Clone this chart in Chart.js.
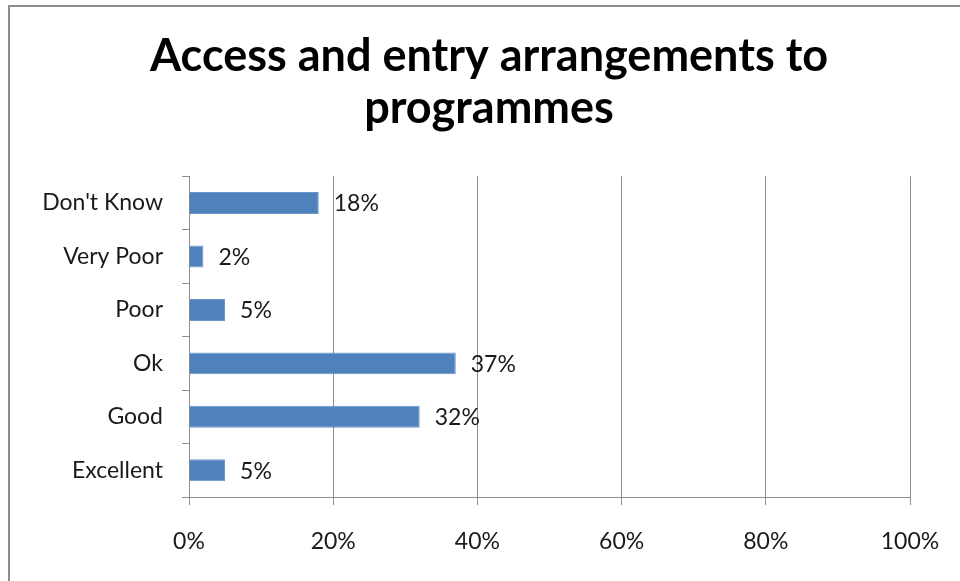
<!DOCTYPE html>
<html lang="en">
<head>
    <meta charset="UTF-8">
    <title>Access and entry arrangements to programmes</title>
    <script src="https://cdn.jsdelivr.net/npm/chart.js"></script>
    <style>
        html, body {
            margin: 0;
            padding: 0;
            background: #ffffff;
            overflow: hidden;
        }

        .frame {
            position: absolute;
            left: 8px;
            top: 5px;
            width: 958px;
            height: 600px;
            border-top: 2px solid #8c8c8c;
            border-left: 2px solid #8c8c8c;
        }
    </style>
</head>
<body>

    <div class="frame">
        <canvas id="accessChart" width="958" height="600"></canvas>
    </div>

    <script>
        // Answers, listed top to bottom as shown on the chart
        const categories = ["Don't Know", "Very Poor", "Poor", "Ok", "Good", "Excellent"];
        const percentages = [18, 2, 5, 37, 32, 5];
        const xTicks = [0, 20, 40, 60, 80, 100];

        const fontFamily = "Lato, 'Open Sans', sans-serif";
        const gridGrey = "#8e8e8e";

        // Writes the percentage just past the end of each bar
        const barValueLabels = {
            id: "barValueLabels",
            afterDatasetsDraw(chart) {
                const ctx = chart.ctx;
                const meta = chart.getDatasetMeta(0);
                ctx.save();
                ctx.font = "23px " + fontFamily;
                ctx.fillStyle = "#1a1a1a";
                ctx.textAlign = "left";
                ctx.textBaseline = "middle";
                meta.data.forEach((bar, i) => {
                    ctx.fillText(percentages[i] + "%", bar.x + 15, bar.y + 1);
                });
                ctx.restore();
            }
        };

        const ctx = document.getElementById("accessChart").getContext("2d");
        new Chart(ctx, {
            type: "bar",
            data: {
                labels: categories,
                datasets: [{
                    data: percentages,
                    backgroundColor: "#4f81bd",
                    borderColor: "#6b95c9",
                    borderWidth: 1,
                    barPercentage: 0.41,
                    categoryPercentage: 1
                }]
            },
            options: {
                indexAxis: "y",
                responsive: false,
                animation: false,
                layout: {
                    padding: 0
                },
                plugins: {
                    legend: { display: false },
                    tooltip: { enabled: false },
                    title: {
                        display: true,
                        text: ["Access and entry arrangements to", "programmes"],
                        color: "#000000",
                        font: { family: fontFamily, size: 45, weight: "bold", lineHeight: 1.17 },
                        padding: { top: 23, bottom: 41 }
                    }
                },
                scales: {
                    x: {
                        min: 0,
                        max: 100,
                        afterBuildTicks(scale) {
                            scale.ticks = xTicks.map(v => ({ value: v }));
                        },
                        afterFit(scale) {
                            scale.height = 110;
                        },
                        ticks: {
                            callback: v => v + "%",
                            color: "#1a1a1a",
                            padding: 23,
                            maxRotation: 0,
                            font: { family: fontFamily, size: 23 }
                        },
                        grid: {
                            color: gridGrey,
                            lineWidth: 1,
                            drawTicks: true,
                            tickLength: 8
                        },
                        border: { display: true, color: gridGrey, width: 1 }
                    },
                    y: {
                        offset: true,
                        afterFit(scale) {
                            scale.width = 179;
                        },
                        ticks: {
                            color: "#1a1a1a",
                            padding: 19,
                            font: { family: fontFamily, size: 23 }
                        },
                        grid: {
                            offset: true,
                            drawOnChartArea: false,
                            drawTicks: true,
                            tickLength: 7,
                            color: gridGrey
                        },
                        border: { display: true, color: gridGrey, width: 1 }
                    },
                    // empty right-hand strip: leaves room past the 100% line
                    // while the title stays centred on the whole frame
                    yRight: {
                        type: "linear",
                        axis: "y",
                        position: "right",
                        afterFit(scale) {
                            scale.width = 58;
                        },
                        ticks: { display: false },
                        grid: { display: false },
                        border: { display: false }
                    }
                }
            },
            plugins: [barValueLabels]
        });
    </script>

</body>
</html>
